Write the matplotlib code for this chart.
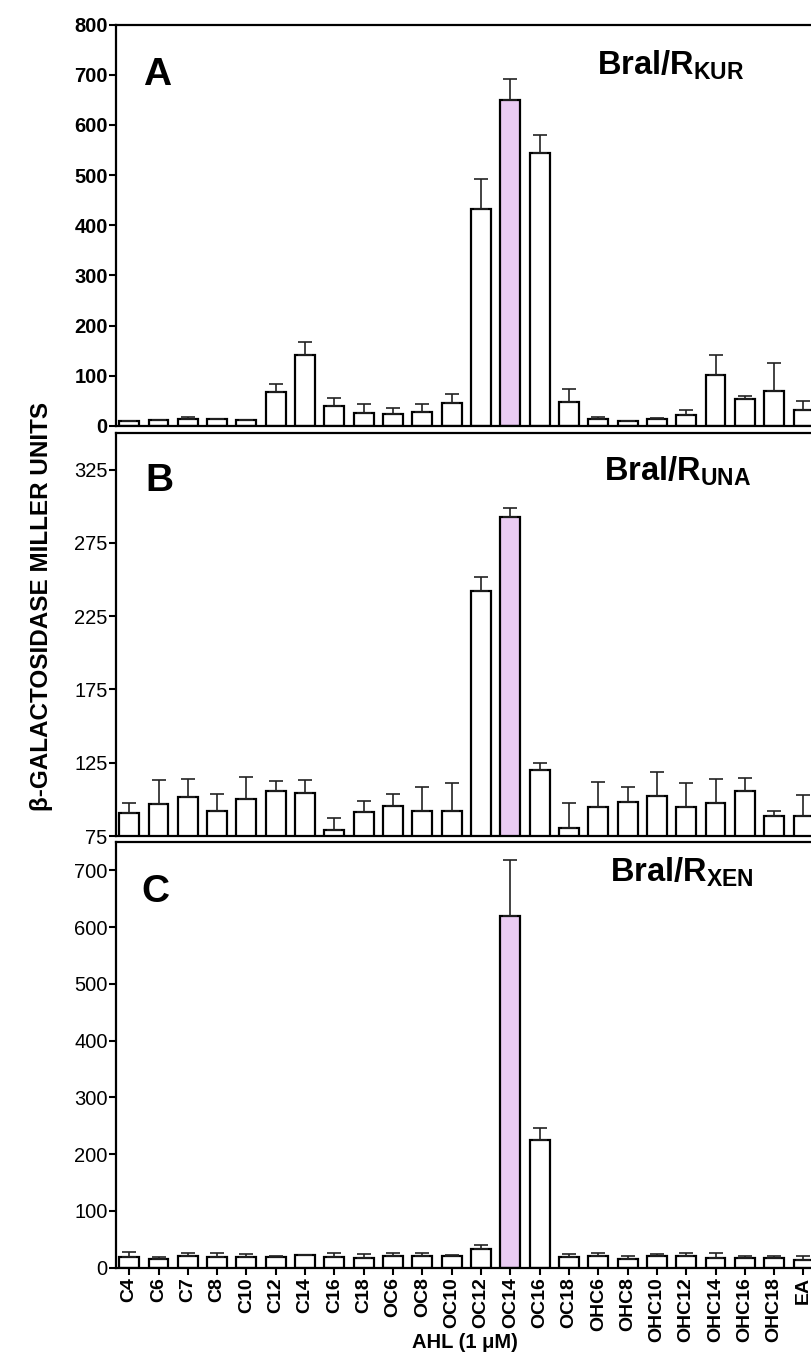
import numpy as np
import matplotlib
matplotlib.use('Agg')
import matplotlib.pyplot as plt

# AHL 种类
ahl = ['C4', 'C6', 'C7', 'C8', 'C10', 'C12', 'C14', 'C16', 'C18',
       'OC6', 'OC8', 'OC10', 'OC12', 'OC14', 'OC16', 'OC18',
       'OHC6', 'OHC8', 'OHC10', 'OHC12', 'OHC14', 'OHC16', 'OHC18', 'EA']

# 面板 A: Bral/R_KUR
kur_vals = [10, 12, 14, 13, 11, 67, 142, 39, 25, 23, 27, 46,
            433, 649, 543, 48, 14, 10, 13, 21, 102, 53, 69, 31]
kur_err = [0, 0, 3, 0, 0, 16, 25, 16, 18, 12, 16, 17,
           60, 43, 37, 25, 3, 0, 2, 10, 39, 6, 57, 18]

# 面板 B: Bral/R_UNA
una_vals = [90.5, 96.8, 101.6, 92, 100, 106, 104.6, 78.9, 91.1, 95.5, 92, 92,
            242, 292.5, 119.8, 80.5, 94.6, 98.2, 102.3, 94.6, 97.5, 105.9, 88.4, 88.4]
una_err = [7.2, 16.4, 12.3, 11.9, 15.3, 6.5, 8.8, 8.6, 8, 8.4, 16.4, 18.9,
           9.7, 6.5, 5.2, 17.2, 17, 10.5, 16.4, 16.6, 16.6, 8.7, 3.9, 14.3]

# 面板 C: Bral/R_XEN
xen_vals = [19, 15, 19.7, 19, 18.4, 17.8, 22, 19, 16.6, 20.8, 19.7, 20.8,
            32.5, 619, 224.5, 18.5, 19.7, 15.5, 19.7, 20.8, 16, 16, 17.2, 13.7]
xen_err = [7.7, 3, 6.3, 6, 4.6, 2.2, 0.6, 6, 7, 4.2, 5.3, 1.2,
           6.5, 100, 21, 4.7, 6.3, 5.3, 4.7, 4.2, 9, 4, 3.8, 5.8]

highlight = 'OC14'
FONT = 'Liberation Sans'


def draw_panel(ax, vals, err, ylim, yticks, bold_ticks):
    x = np.arange(len(ahl))
    colors = ['#EACBF3' if a == highlight else 'white' for a in ahl]
    ax.bar(x, vals, width=0.68, color=colors, edgecolor='black',
           linewidth=1.6, zorder=2)
    ax.errorbar(x, vals, yerr=[np.zeros(len(err)), err], fmt='none',
                ecolor='#222222', elinewidth=1.2, capsize=5, capthick=1.2,
                zorder=3)
    ax.set_xlim(-0.45, 23.7)
    ax.set_ylim(*ylim)
    ax.set_yticks(yticks)
    for s in ['left', 'top', 'bottom']:
        ax.spines[s].set_linewidth(1.6)
    ax.spines['right'].set_visible(False)
    ax.tick_params(axis='y', direction='out', length=5, width=1.5, pad=1)
    for t in ax.get_yticklabels():
        t.set_family(FONT)
        t.set_fontsize(14.5)
        t.set_fontweight('bold' if bold_ticks else 'normal')


def main():
    plt.rcParams['mathtext.fontset'] = 'custom'
    plt.rcParams['mathtext.bf'] = FONT + ':bold'
    plt.rcParams['mathtext.rm'] = FONT + ':bold'

    fig = plt.figure(figsize=(8.11, 13.67), dpi=100)
    W, H = 811.0, 1367.0
    left = 116 / W
    width = 708 / W

    ax_a = fig.add_axes([left, 1 - 426 / H, width, 401.5 / H])
    ax_b = fig.add_axes([left, 1 - 836 / H, width, 403 / H])
    ax_c = fig.add_axes([left, 1 - 1267.5 / H, width, 425.5 / H])

    draw_panel(ax_a, kur_vals, kur_err, (0, 800), np.arange(0, 801, 100), True)
    draw_panel(ax_b, una_vals, una_err, (75, 350), np.arange(75, 326, 50), False)
    draw_panel(ax_c, xen_vals, xen_err, (0, 750), np.arange(0, 701, 100), False)

    # 字母和标题位置（像素）
    for letter, (lx, ly), (tx, ty), sub in [
            ('A', (143, 85), (597, 75), 'KUR'),
            ('B', (145, 491), (604, 481), 'UNA'),
            ('C', (141, 902), (610, 882), 'XEN')]:
        fig.text(lx / W, 1 - ly / H, letter, fontsize=28, fontweight='bold',
                 family=FONT, va='baseline', ha='left')
        fig.text(tx / W, 1 - ty / H, r'$\mathbf{Bral/R_{%s}}$' % sub,
                 fontsize=23.5, va='baseline', ha='left')

    for ax in [ax_a, ax_b]:
        ax.set_xticks([])

    ax_c.set_xticks(np.arange(len(ahl)))
    ax_c.set_xticklabels(ahl, rotation=90, fontsize=14, fontweight='bold',
                         family=FONT)
    ax_c.tick_params(axis='x', direction='out', length=5, width=1.5, pad=2)

    fig.text(465 / W, 1 - 1343 / H, 'AHL (1 \u03bcM)', ha='center', va='center',
             fontsize=14.5, fontweight='bold', family=FONT)
    fig.text(42 / W, 1 - 606 / H, '\u03b2-GALACTOSIDASE MILLER UNITS',
             rotation=90, ha='center', va='center', fontsize=17.5,
             fontweight='bold', family=FONT)

    plt.savefig('out.png', dpi=100)


if __name__ == '__main__':
    main()
